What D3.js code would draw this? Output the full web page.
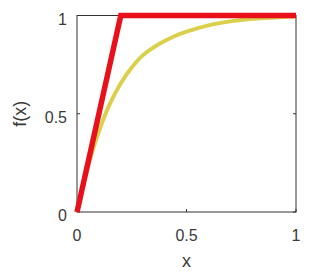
<!DOCTYPE html>
<html>
<head>
<meta charset="utf-8">
<script src="https://cdn.jsdelivr.net/npm/d3@7"></script>
<style>
  body { margin: 0; background: #fff; }
  text { font-family: "Liberation Sans", Arial, sans-serif; fill: #3a3a3a; }
</style>
</head>
<body>
<svg id="chart" width="314" height="275"></svg>
<script>
// values
var redX = [0, 0.2, 1];
var redY = [0, 1, 1];

var yellowX = [0, 0.05, 0.1, 0.15, 0.2, 0.25, 0.3, 0.35, 0.4, 0.45, 0.5, 0.6, 0.7, 0.8, 0.9, 1];
var yellowY = [0, 0.23, 0.41, 0.55, 0.655, 0.735, 0.797, 0.838, 0.87, 0.897, 0.918, 0.95, 0.97, 0.983, 0.99, 0.995];

var xTicks = [0, 0.5, 1];
var yTicks = [0, 0.5, 1];

var svg = d3.select("#chart");
var pLeft = 77, pRight = 296, pTop = 15.5, pBottom = 212;

var x = d3.scaleLinear().domain([0, 1]).range([pLeft, pRight]);
var y = d3.scaleLinear().domain([0, 1]).range([pBottom, pTop]);

function pts(xs, ys) {
    return xs.map(function(d, i) { return [d, ys[i]]; });
}

var line = d3.line()
    .x(function(d) { return x(d[0]); })
    .y(function(d) { return y(d[1]); })
    .curve(d3.curveCatmullRom);

// frame
svg.append("rect")
    .attr("x", pLeft).attr("y", pTop)
    .attr("width", pRight - pLeft).attr("height", pBottom - pTop)
    .attr("fill", "none").attr("stroke", "#333").attr("stroke-width", 1);

// inward ticks
var tl = 3;
svg.selectAll(".xt").data(xTicks).enter().append("line")
    .attr("x1", function(d) { return x(d); }).attr("x2", function(d) { return x(d); })
    .attr("y1", pBottom).attr("y2", pBottom - tl)
    .attr("stroke", "#333");
svg.selectAll(".yt").data(yTicks).enter().append("line")
    .attr("x1", pLeft).attr("x2", pLeft + tl)
    .attr("y1", function(d) { return y(d); }).attr("y2", function(d) { return y(d); })
    .attr("stroke", "#333");
svg.selectAll(".yt2").data(yTicks).enter().append("line")
    .attr("x1", pRight).attr("x2", pRight - tl)
    .attr("y1", function(d) { return y(d); }).attr("y2", function(d) { return y(d); })
    .attr("stroke", "#333");

// tick labels
svg.selectAll(".xl").data(xTicks).enter().append("text")
    .attr("x", function(d) { return x(d); })
    .attr("y", pBottom + 29)
    .attr("text-anchor", "middle")
    .style("font-size", "16px")
    .text(function(d) { return d3.format("")(d); });
svg.selectAll(".yl").data(yTicks).enter().append("text")
    .attr("x", pLeft - 10)
    .attr("y", function(d) { return y(d) + 9; })
    .attr("text-anchor", "end")
    .style("font-size", "16px")
    .text(function(d) { return d3.format("")(d); });

// axis titles
svg.append("text")
    .attr("x", x(0.5)).attr("y", 267)
    .attr("text-anchor", "middle")
    .style("font-size", "18px")
    .text("x");
svg.append("text")
    .attr("transform", "translate(26," + ((pTop + pBottom) / 2) + ") rotate(-90)")
    .attr("text-anchor", "middle")
    .style("font-size", "18px")
    .text("f(x)");

// curves
svg.append("path")
    .datum(pts(yellowX, yellowY))
    .attr("d", line)
    .attr("fill", "none")
    .attr("stroke", "#d6cb38")
    .attr("stroke-opacity", 0.9)
    .attr("stroke-width", 4);

svg.append("path")
    .datum(pts(redX, redY))
    .attr("d", d3.line().x(function(d) { return x(d[0]); }).y(function(d) { return y(d[1]); }))
    .attr("fill", "none")
    .attr("stroke", "#e8101a")
    .attr("stroke-width", 5.5)
    .attr("stroke-linejoin", "miter");
</script>
</body>
</html>
